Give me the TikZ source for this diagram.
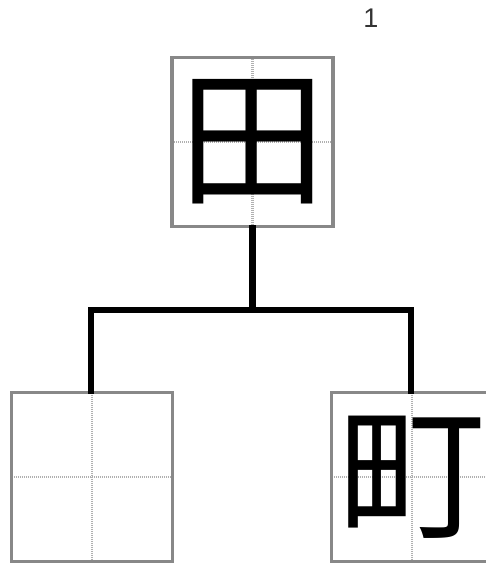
\documentclass[tikz,border=0pt]{standalone}
\usepackage{fontspec}
\usepackage{xcolor}
\usepackage{tikz}
\usetikzlibrary{positioning,calc}
\newfontfamily\cjk{Noto Sans CJK SC}
\newfontfamily\numfont{Liberation Sans}
\definecolor{boxgray}{HTML}{888888}
\definecolor{guidegray}{HTML}{B0B0B0}

\begin{document}
\begin{tikzpicture}[
    x=1pt, y=-1pt,
    charbox/.style={draw=boxgray, line width=3.2pt, minimum width=161pt, minimum height=169pt,
                    inner sep=0pt, font=\cjk\fontsize{148}{148}\selectfont,
                    path picture={
                      \draw[guide] (path picture bounding box.north) -- (path picture bounding box.south);
                      \draw[guide] (path picture bounding box.west) -- (path picture bounding box.east);
                    }},
    guide/.style={guidegray, line width=2.2pt, dash pattern=on 1pt off 1pt},
    link/.style={line width=6.5pt, line cap=rect, line join=miter},
]
    \useasboundingbox (0,0) rectangle (486,564);
    \clip (0,0) rectangle (486,564);

    % Step number
    \node[font=\numfont\fontsize{27}{27}\selectfont, text=black!80] (num) at (371,18) {1};

    % Component tree
    \node[charbox] (tian) at (252.5,142) {田};
    \node[charbox] (blank) at (92,477) {};
    \node[charbox] (ting) at (412,477) {町};

    % Bracket
    \coordinate (split) at ($(tian.south)+(0,82)$);
    \draw[link] (tian.south) -- (split);
    \draw[link] ($(blank.north)+(-1,0)$) |- (split) -| ($(ting.north)+(-1,0)$);

\end{tikzpicture}
\end{document}
